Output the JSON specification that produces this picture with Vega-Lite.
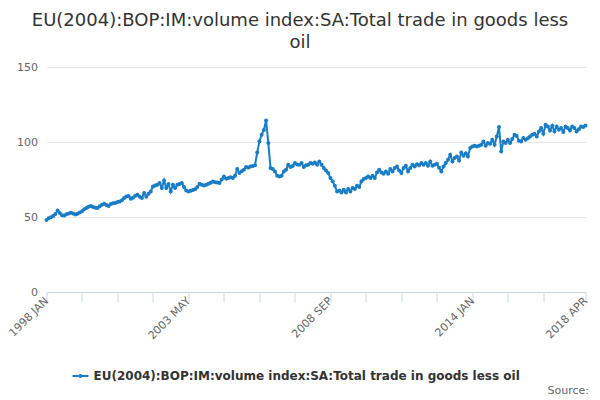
{
  "$schema": "https://vega.github.io/schema/vega-lite/v6.json",
  "width": 539,
  "height": 225,
  "autosize": {"type": "none"},
  "padding": {"left": 46.5, "top": 67, "right": 14.5, "bottom": 108},
  "background": "#ffffff",
  "config": {"view": {"stroke": null}, "font": "DejaVu Sans"},
  "title": {
    "text": ["EU(2004):BOP:IM:volume index:SA:Total trade in goods less", "oil"],
    "font": "DejaVu Sans",
    "fontSize": 18,
    "fontWeight": "normal",
    "color": "#333333",
    "anchor": "middle",
    "dx": -16,
    "offset": 9,
    "lineHeight": 22
  },
  "data": {
    "values": [
      {"month": "1998 JAN", "value": 48.0}, {"month": "1998 FEB", "value": 49.2}, {"month": "1998 MAR", "value": 49.8}, {"month": "1998 APR", "value": 50.6},
      {"month": "1998 MAY", "value": 52.0}, {"month": "1998 JUN", "value": 54.3}, {"month": "1998 JUL", "value": 52.6}, {"month": "1998 AUG", "value": 51.2},
      {"month": "1998 SEP", "value": 51.0}, {"month": "1998 OCT", "value": 51.8}, {"month": "1998 NOV", "value": 52.3}, {"month": "1998 DEC", "value": 52.9},
      {"month": "1999 JAN", "value": 52.4}, {"month": "1999 FEB", "value": 51.6}, {"month": "1999 MAR", "value": 52.2}, {"month": "1999 APR", "value": 53.0},
      {"month": "1999 MAY", "value": 53.8}, {"month": "1999 JUN", "value": 55.2}, {"month": "1999 JUL", "value": 56.0}, {"month": "1999 AUG", "value": 56.8},
      {"month": "1999 SEP", "value": 57.4}, {"month": "1999 OCT", "value": 56.6}, {"month": "1999 NOV", "value": 56.2}, {"month": "1999 DEC", "value": 56.0},
      {"month": "2000 JAN", "value": 57.2}, {"month": "2000 FEB", "value": 58.1}, {"month": "2000 MAR", "value": 58.8}, {"month": "2000 APR", "value": 58.0},
      {"month": "2000 MAY", "value": 57.4}, {"month": "2000 JUN", "value": 58.6}, {"month": "2000 JUL", "value": 59.1}, {"month": "2000 AUG", "value": 59.3},
      {"month": "2000 SEP", "value": 60.0}, {"month": "2000 OCT", "value": 60.4}, {"month": "2000 NOV", "value": 61.2}, {"month": "2000 DEC", "value": 62.7},
      {"month": "2001 JAN", "value": 63.6}, {"month": "2001 FEB", "value": 64.0}, {"month": "2001 MAR", "value": 62.2}, {"month": "2001 APR", "value": 62.8},
      {"month": "2001 MAY", "value": 64.2}, {"month": "2001 JUN", "value": 64.9}, {"month": "2001 JUL", "value": 63.5}, {"month": "2001 AUG", "value": 62.7},
      {"month": "2001 SEP", "value": 66.0}, {"month": "2001 OCT", "value": 63.5}, {"month": "2001 NOV", "value": 65.5}, {"month": "2001 DEC", "value": 67.0},
      {"month": "2002 JAN", "value": 70.4}, {"month": "2002 FEB", "value": 71.0}, {"month": "2002 MAR", "value": 71.5}, {"month": "2002 APR", "value": 72.7},
      {"month": "2002 MAY", "value": 69.3}, {"month": "2002 JUN", "value": 74.4}, {"month": "2002 JUL", "value": 69.3}, {"month": "2002 AUG", "value": 72.0},
      {"month": "2002 SEP", "value": 67.0}, {"month": "2002 OCT", "value": 71.5}, {"month": "2002 NOV", "value": 69.3}, {"month": "2002 DEC", "value": 71.5},
      {"month": "2003 JAN", "value": 72.0}, {"month": "2003 FEB", "value": 72.7}, {"month": "2003 MAR", "value": 70.0}, {"month": "2003 APR", "value": 67.7},
      {"month": "2003 MAY", "value": 67.0}, {"month": "2003 JUN", "value": 67.5}, {"month": "2003 JUL", "value": 68.0}, {"month": "2003 AUG", "value": 68.5},
      {"month": "2003 SEP", "value": 70.0}, {"month": "2003 OCT", "value": 72.2}, {"month": "2003 NOV", "value": 71.5}, {"month": "2003 DEC", "value": 71.0},
      {"month": "2004 JAN", "value": 71.5}, {"month": "2004 FEB", "value": 72.2}, {"month": "2004 MAR", "value": 72.8}, {"month": "2004 APR", "value": 73.7},
      {"month": "2004 MAY", "value": 73.2}, {"month": "2004 JUN", "value": 73.0}, {"month": "2004 JUL", "value": 72.7}, {"month": "2004 AUG", "value": 75.0},
      {"month": "2004 SEP", "value": 77.0}, {"month": "2004 OCT", "value": 75.5}, {"month": "2004 NOV", "value": 76.0}, {"month": "2004 DEC", "value": 76.5},
      {"month": "2005 JAN", "value": 76.0}, {"month": "2005 FEB", "value": 77.5}, {"month": "2005 MAR", "value": 82.0}, {"month": "2005 APR", "value": 79.3},
      {"month": "2005 MAY", "value": 80.5}, {"month": "2005 JUN", "value": 81.5}, {"month": "2005 JUL", "value": 83.3}, {"month": "2005 AUG", "value": 83.0},
      {"month": "2005 SEP", "value": 83.7}, {"month": "2005 OCT", "value": 84.0}, {"month": "2005 NOV", "value": 84.5}, {"month": "2005 DEC", "value": 93.0},
      {"month": "2006 JAN", "value": 100.5}, {"month": "2006 FEB", "value": 104.9}, {"month": "2006 MAR", "value": 108.0}, {"month": "2006 APR", "value": 114.4},
      {"month": "2006 MAY", "value": 99.3}, {"month": "2006 JUN", "value": 82.7}, {"month": "2006 JUL", "value": 82.0}, {"month": "2006 AUG", "value": 80.4},
      {"month": "2006 SEP", "value": 77.5}, {"month": "2006 OCT", "value": 77.0}, {"month": "2006 NOV", "value": 77.5}, {"month": "2006 DEC", "value": 80.4},
      {"month": "2007 JAN", "value": 81.5}, {"month": "2007 FEB", "value": 84.9}, {"month": "2007 MAR", "value": 83.3}, {"month": "2007 APR", "value": 84.0},
      {"month": "2007 MAY", "value": 86.0}, {"month": "2007 JUN", "value": 85.0}, {"month": "2007 JUL", "value": 84.9}, {"month": "2007 AUG", "value": 86.0},
      {"month": "2007 SEP", "value": 83.3}, {"month": "2007 OCT", "value": 84.5}, {"month": "2007 NOV", "value": 84.9}, {"month": "2007 DEC", "value": 86.0},
      {"month": "2008 JAN", "value": 85.5}, {"month": "2008 FEB", "value": 86.4}, {"month": "2008 MAR", "value": 84.9}, {"month": "2008 APR", "value": 87.0},
      {"month": "2008 MAY", "value": 84.9}, {"month": "2008 JUN", "value": 82.7}, {"month": "2008 JUL", "value": 81.0}, {"month": "2008 AUG", "value": 79.3},
      {"month": "2008 SEP", "value": 76.0}, {"month": "2008 OCT", "value": 73.8}, {"month": "2008 NOV", "value": 70.9}, {"month": "2008 DEC", "value": 67.0},
      {"month": "2009 JAN", "value": 67.7}, {"month": "2009 FEB", "value": 66.4}, {"month": "2009 MAR", "value": 68.2}, {"month": "2009 APR", "value": 66.4},
      {"month": "2009 MAY", "value": 68.7}, {"month": "2009 JUN", "value": 67.0}, {"month": "2009 JUL", "value": 69.3}, {"month": "2009 AUG", "value": 68.7},
      {"month": "2009 SEP", "value": 70.9}, {"month": "2009 OCT", "value": 70.0}, {"month": "2009 NOV", "value": 73.8}, {"month": "2009 DEC", "value": 75.3},
      {"month": "2010 JAN", "value": 76.0}, {"month": "2010 FEB", "value": 77.0}, {"month": "2010 MAR", "value": 76.0}, {"month": "2010 APR", "value": 77.5},
      {"month": "2010 MAY", "value": 76.0}, {"month": "2010 JUN", "value": 79.7}, {"month": "2010 JUL", "value": 81.5}, {"month": "2010 AUG", "value": 79.7},
      {"month": "2010 SEP", "value": 78.9}, {"month": "2010 OCT", "value": 80.4}, {"month": "2010 NOV", "value": 78.9}, {"month": "2010 DEC", "value": 82.0},
      {"month": "2011 JAN", "value": 80.4}, {"month": "2011 FEB", "value": 82.7}, {"month": "2011 MAR", "value": 83.7}, {"month": "2011 APR", "value": 81.0},
      {"month": "2011 MAY", "value": 79.3}, {"month": "2011 JUN", "value": 82.7}, {"month": "2011 JUL", "value": 84.2}, {"month": "2011 AUG", "value": 80.4},
      {"month": "2011 SEP", "value": 82.7}, {"month": "2011 OCT", "value": 84.9}, {"month": "2011 NOV", "value": 83.7}, {"month": "2011 DEC", "value": 85.2},
      {"month": "2012 JAN", "value": 84.5}, {"month": "2012 FEB", "value": 86.0}, {"month": "2012 MAR", "value": 84.9}, {"month": "2012 APR", "value": 86.0},
      {"month": "2012 MAY", "value": 84.2}, {"month": "2012 JUN", "value": 87.0}, {"month": "2012 JUL", "value": 84.2}, {"month": "2012 AUG", "value": 84.9},
      {"month": "2012 SEP", "value": 85.5}, {"month": "2012 OCT", "value": 82.9}, {"month": "2012 NOV", "value": 80.4}, {"month": "2012 DEC", "value": 83.7},
      {"month": "2013 JAN", "value": 86.0}, {"month": "2013 FEB", "value": 88.2}, {"month": "2013 MAR", "value": 91.5}, {"month": "2013 APR", "value": 87.0},
      {"month": "2013 MAY", "value": 89.3}, {"month": "2013 JUN", "value": 90.4}, {"month": "2013 JUL", "value": 87.7}, {"month": "2013 AUG", "value": 93.0},
      {"month": "2013 SEP", "value": 90.9}, {"month": "2013 OCT", "value": 92.5}, {"month": "2013 NOV", "value": 90.4}, {"month": "2013 DEC", "value": 96.0},
      {"month": "2014 JAN", "value": 97.0}, {"month": "2014 FEB", "value": 97.5}, {"month": "2014 MAR", "value": 97.0}, {"month": "2014 APR", "value": 97.5},
      {"month": "2014 MAY", "value": 98.2}, {"month": "2014 JUN", "value": 100.4}, {"month": "2014 JUL", "value": 97.5}, {"month": "2014 AUG", "value": 99.3},
      {"month": "2014 SEP", "value": 98.8}, {"month": "2014 OCT", "value": 101.5}, {"month": "2014 NOV", "value": 98.2}, {"month": "2014 DEC", "value": 103.7},
      {"month": "2015 JAN", "value": 110.0}, {"month": "2015 FEB", "value": 93.7}, {"month": "2015 MAR", "value": 100.4}, {"month": "2015 APR", "value": 99.3},
      {"month": "2015 MAY", "value": 101.5}, {"month": "2015 JUN", "value": 99.3}, {"month": "2015 JUL", "value": 102.0}, {"month": "2015 AUG", "value": 104.9},
      {"month": "2015 SEP", "value": 104.0}, {"month": "2015 OCT", "value": 100.9}, {"month": "2015 NOV", "value": 100.4}, {"month": "2015 DEC", "value": 102.7},
      {"month": "2016 JAN", "value": 101.5}, {"month": "2016 FEB", "value": 102.5}, {"month": "2016 MAR", "value": 103.7}, {"month": "2016 APR", "value": 104.9},
      {"month": "2016 MAY", "value": 105.5}, {"month": "2016 JUN", "value": 103.7}, {"month": "2016 JUL", "value": 107.0}, {"month": "2016 AUG", "value": 109.3},
      {"month": "2016 SEP", "value": 105.5}, {"month": "2016 OCT", "value": 111.5}, {"month": "2016 NOV", "value": 110.4}, {"month": "2016 DEC", "value": 107.7},
      {"month": "2017 JAN", "value": 110.9}, {"month": "2017 FEB", "value": 107.0}, {"month": "2017 MAR", "value": 110.4}, {"month": "2017 APR", "value": 108.2},
      {"month": "2017 MAY", "value": 109.3}, {"month": "2017 JUN", "value": 106.7}, {"month": "2017 JUL", "value": 110.4}, {"month": "2017 AUG", "value": 109.3},
      {"month": "2017 SEP", "value": 107.7}, {"month": "2017 OCT", "value": 110.4}, {"month": "2017 NOV", "value": 109.3}, {"month": "2017 DEC", "value": 107.0},
      {"month": "2018 JAN", "value": 108.5}, {"month": "2018 FEB", "value": 110.4}, {"month": "2018 MAR", "value": 110.0}, {"month": "2018 APR", "value": 111.0}
    ]
  },
  "mark": {"type": "line", "strokeWidth": 2, "point": {"filled": true, "size": 16}},
  "encoding": {
    "x": {
      "field": "month",
      "type": "ordinal",
      "sort": null,
      "scale": {"type": "point", "padding": 0},
      "axis": {
        "values": ["1998 JAN", "1999 MAY", "2000 SEP", "2002 JAN", "2003 MAY", "2004 SEP", "2006 JAN", "2007 MAY", "2008 SEP", "2010 JAN", "2011 MAY", "2012 SEP", "2014 JAN", "2015 MAY", "2016 SEP", "2018 APR"],
        "labelExpr": "indexof(['1998 JAN', '2003 MAY', '2008 SEP', '2014 JAN', '2018 APR'], datum.value) >= 0 ? datum.value : ''",
        "labelAngle": -45,
        "labelAlign": "right",
        "labelBaseline": "middle",
        "labelPadding": -3,
        "labelFontSize": 11,
        "labelColor": "#666666",
        "labelOverlap": false,
        "labelFlush": false,
        "domainColor": "#ccd6eb",
        "tickColor": "#ccd6eb",
        "tickSize": 10,
        "grid": false,
        "title": "Source:",
        "titleAnchor": "end",
        "titleAlign": "right",
        "titleBaseline": "alphabetic",
        "titleX": 542,
        "titleY": 101,
        "titleFontSize": 11,
        "titleFontWeight": "normal",
        "titleColor": "#666666"
      }
    },
    "y": {
      "field": "value",
      "type": "quantitative",
      "scale": {"domain": [0, 150]},
      "axis": {
        "title": null,
        "values": [0, 50, 100, 150],
        "domain": false,
        "ticks": false,
        "gridColor": "#e6e6e6",
        "labelColor": "#666666",
        "labelFontSize": 11,
        "labelPadding": 9
      }
    },
    "color": {
      "datum": "EU(2004):BOP:IM:volume index:SA:Total trade in goods less oil",
      "scale": {"range": ["#1a7dc4"]},
      "legend": {
        "orient": "none",
        "legendX": 25,
        "legendY": 300,
        "title": null,
        "symbolType": "M-1,0H1M0,-0.12A0.12,0.12,0,1,1,0,0.12A0.12,0.12,0,1,1,0,-0.12",
        "symbolStrokeWidth": 2,
        "symbolSize": 256,
        "labelFont": "DejaVu Sans",
        "labelFontSize": 12,
        "labelFontWeight": "bold",
        "labelColor": "#333333",
        "labelLimit": 600
      }
    }
  }
}
